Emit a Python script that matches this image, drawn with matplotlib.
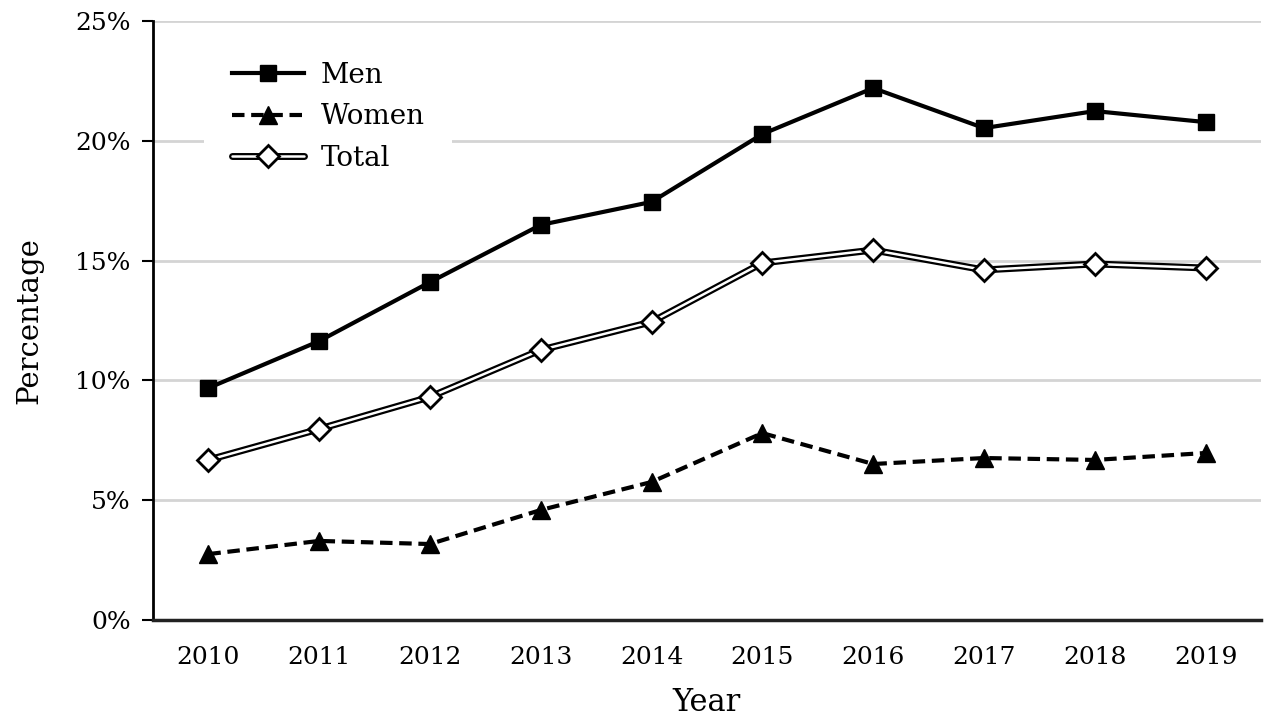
import numpy as np
import matplotlib.pyplot as plt
from matplotlib.legend_handler import HandlerTuple
from matplotlib.ticker import PercentFormatter

plt.rcParams['font.family'] = ['DejaVu Serif']

years = ['2010', '2011', '2012', '2013', '2014', '2015', '2016', '2017', '2018', '2019']
men = [9.68, 11.64, 14.1, 16.49, 17.45, 20.28, 22.2, 20.53, 21.24, 20.78]
women = [2.75, 3.3, 3.17, 4.59, 5.76, 7.8, 6.51, 6.76, 6.68, 6.97]
total = [6.68, 7.97, 9.31, 11.27, 12.44, 14.9, 15.44, 14.61, 14.86, 14.69]

x = np.arange(len(years))

fig = plt.figure(figsize=(12.64, 7.19), dpi=100)
ax = fig.add_axes([0.121, 0.1377, 0.8766, 0.8331])

ax.set_ylim(0, 25)
ax.set_xlim(-0.5, len(years) - 0.5)
ax.set_yticks([0, 5, 10, 15, 20, 25])
ax.yaxis.set_major_formatter(PercentFormatter(decimals=0))
ax.grid(axis='y', color='#d4d4d4', lw=2, zorder=0)
ax.set_axisbelow(True)

for s in ['top', 'right']:
    ax.spines[s].set_visible(False)
ax.spines['left'].set_linewidth(2)
ax.spines['bottom'].set_linewidth(2.5)
ax.spines['bottom'].set_color('#222222')

ax.tick_params(axis='y', length=8, width=1.5, labelsize=18, pad=8)
ax.tick_params(axis='x', length=0, labelsize=18, pad=19)
ax.set_xticks(x)
ax.set_xticklabels(years)

l_men, = ax.plot(x, men, color='black', lw=3, marker='s', ms=12, zorder=4)
l_women, = ax.plot(x, women, color='black', lw=3, ls=(0, (3, 1.6)), marker='^',
                   ms=13, zorder=4)
l_tot_bg, = ax.plot(x, total, color='black', lw=5, zorder=3, solid_capstyle='round')
l_tot, = ax.plot(x, total, color='white', lw=1.8, marker='D', ms=11,
                 mfc='white', mec='black', mew=2, zorder=3.5, solid_capstyle='round')

ax.set_xlabel('Year', fontsize=22, labelpad=13)
ax.set_ylabel('Percentage', fontsize=21, labelpad=23)

leg = ax.legend([l_men, l_women, (l_tot_bg, l_tot)], ['Men', 'Women', 'Total'],
                handler_map={tuple: HandlerTuple(ndivide=1)},
                loc='upper left', bbox_to_anchor=(0.046, 0.978), frameon=True,
                fancybox=False, edgecolor='none', facecolor='white', framealpha=1,
                fontsize=20, handlelength=2.6, handletextpad=0.6, labelspacing=0.52,
                borderpad=1.0, borderaxespad=0)

fig.savefig('out.png', dpi=100)
